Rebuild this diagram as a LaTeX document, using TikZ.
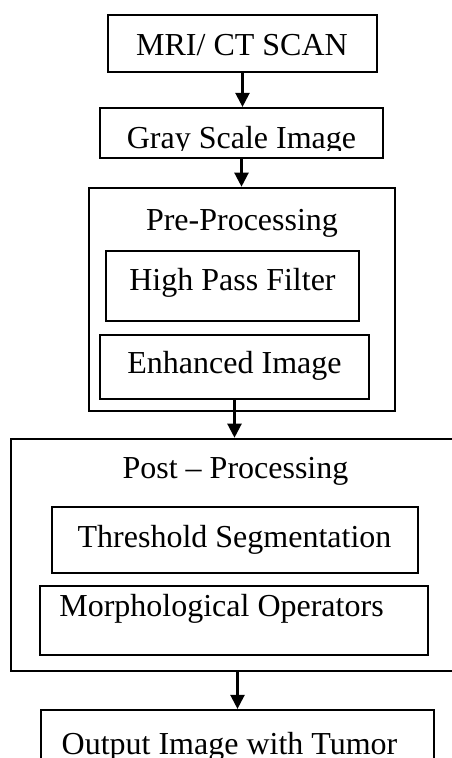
\documentclass[tikz,border=0pt]{standalone}
\usepackage{fontspec}
\setmainfont{Liberation Serif}
\usetikzlibrary{arrows.meta}
\begin{document}
\begin{tikzpicture}[x=1pt,y=-1pt,
  box/.style={draw, line width=2.2pt, inner sep=0pt, rectangle},
  outerbox/.style={draw, line width=2.6pt, inner sep=0pt, rectangle},
  lbl/.style={anchor=base, inner sep=0pt, font=\fontsize{32}{34}\selectfont},
  arr/.style={line width=2.3pt, -{Triangle[length=14pt,width=14pt]}}]
\useasboundingbox (0,0) rectangle (452,758);
\clip (0,0) rectangle (452,758);
% boxes
\node[box, minimum width=269, minimum height=57] (scan) at (242.5,43.5) {};
\node[box, minimum width=283, minimum height=50] (gray) at (241.5,133) {};
\node[outerbox, minimum width=306, minimum height=223] (pre) at (242,299.5) {};
\node[box, minimum width=253, minimum height=70] (hpf) at (232.5,286) {};
\node[box, minimum width=269, minimum height=64] (enh) at (234.5,367) {};
\node[outerbox, minimum width=459, minimum height=232] (post) at (240.5,555) {};
\node[box, minimum width=366, minimum height=66] (thr) at (235,540) {};
\node[box, minimum width=388, minimum height=69] (mor) at (234,620.5) {};
\node[box, minimum width=393, minimum height=90] (out) at (237.5,755) {};
% labels
\node[lbl] (tscan) at (242,55) {MRI/ CT SCAN};
\begin{scope}
\clip (100,108) rectangle (383,150);
\node[lbl] (tgray) at (241.5,148) {Gray Scale Image};
\end{scope}
\node[lbl] (tpre) at (242,230) {Pre-Processing};
\node[lbl] (thpf) at (232.5,290) {High Pass Filter};
\node[lbl] (tenh) at (234.5,373) {Enhanced Image};
\node[lbl] (tpost) at (235.5,478) {Post – Processing};
\node[lbl] (tthr) at (234.5,547) {Threshold Segmentation};
\node[lbl] (tmor) at (221.5,616) {Morphological Operators};
\node[lbl] (tout) at (229.5,754) {Output Image with Tumor};
% connectors
\draw[arr] (scan.south) -- (scan.south |- gray.north);
\draw[arr] (gray.south) -- (gray.south |- pre.north);
\draw[arr] (enh.south) -- (enh.south |- post.north);
\draw[arr] (out.north |- post.south) -- (out.north);
\end{tikzpicture}
\end{document}
